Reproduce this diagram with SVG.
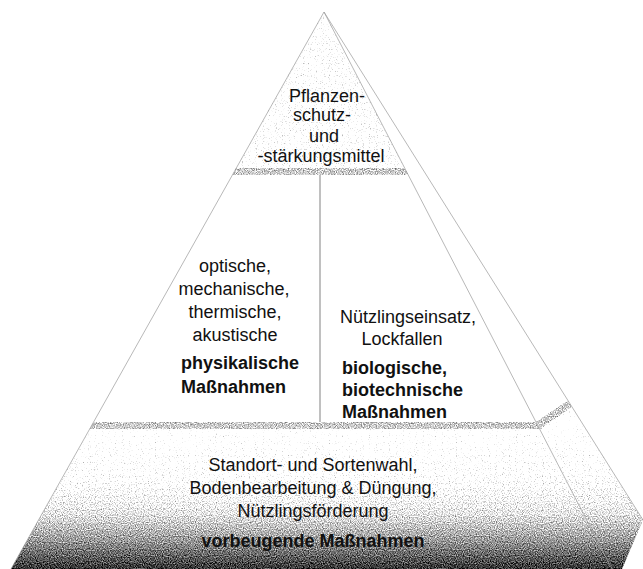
<svg xmlns="http://www.w3.org/2000/svg" width="643" height="569" viewBox="0 0 643 569">
  <style>
    .t { font-family: "Liberation Sans", Arial, sans-serif; font-size: 18px; fill: #111; }
    .c { text-anchor: middle; }
    .b { font-weight: bold; }
    .edge { fill: none; stroke: #999; stroke-width: 0.7; }
  </style>
  <defs>
    <filter id="grain" x="0" y="0" width="643" height="569" filterUnits="userSpaceOnUse" color-interpolation-filters="sRGB">
      <feTurbulence type="fractalNoise" baseFrequency="0.85" numOctaves="1" seed="7" result="n"/>
      <feColorMatrix in="n" type="matrix" values="0 0 0 0 0  0 0 0 0 0  0 0 0 0 0  1 0 0 0 0" result="na"/>
      <feColorMatrix in="SourceAlpha" type="matrix" values="0 0 0 0 0  0 0 0 0 0  0 0 0 0 0  0 0 0 100 0" result="mask"/>
      <feComposite in="SourceAlpha" in2="na" operator="arithmetic" k1="0" k2="1.5" k3="1.4" k4="-0.95" result="g"/>
      <feComposite in="g" in2="mask" operator="in"/>
    </filter>
    <linearGradient id="gBottom" gradientUnits="userSpaceOnUse" x1="0" y1="429" x2="0" y2="569">
      <stop offset="0" stop-color="#000" stop-opacity="0.02"/>
      <stop offset="0.35" stop-color="#000" stop-opacity="0.08"/>
      <stop offset="0.6" stop-color="#000" stop-opacity="0.22"/>
      <stop offset="0.8" stop-color="#000" stop-opacity="0.44"/>
      <stop offset="1" stop-color="#000" stop-opacity="0.7"/>
    </linearGradient>
    <clipPath id="clipFront">
      <polygon points="324,12 11,569 612,569"/>
    </clipPath>
    <clipPath id="clipSide">
      <polygon points="324,12 643,520 622,569 612,569"/>
    </clipPath>
  </defs>

  <rect width="643" height="569" fill="#fff"/>

  <!-- top tier -->
  <g id="tier-top">
    <polygon points="324,12 236,168 405,168" fill="#000" fill-opacity="0.07" filter="url(#grain)"/>
    <polygon points="236,168 405,168 409,175 232,175" fill="#000" fill-opacity="0.3" filter="url(#grain)"/>
    <text class="t c" x="327" y="102">Pflanzen-</text>
    <text class="t c" x="322" y="121">schutz-</text>
    <text class="t c" x="324" y="142">und</text>
    <text class="t c" x="321" y="162">-stärkungsmittel</text>
  </g>

  <!-- middle left -->
  <g id="tier-middle-left">
    <text class="t c" x="235" y="272">optische,</text>
    <text class="t c" x="234" y="295">mechanische,</text>
    <text class="t c" x="235" y="318">thermische,</text>
    <text class="t c" x="235" y="341">akustische</text>
    <text class="t b" x="181" y="369">physikalische</text>
    <text class="t b" x="181" y="393">Maßnahmen</text>
  </g>

  <!-- middle right -->
  <g id="tier-middle-right">
    <text class="t c" x="408" y="323">Nützlingseinsatz,</text>
    <text class="t c" x="402" y="345">Lockfallen</text>
    <text class="t b" x="342" y="374">biologische,</text>
    <text class="t b" x="342" y="396">biotechnische</text>
    <text class="t b" x="342" y="418">Maßnahmen</text>
  </g>

  <!-- bottom tier -->
  <g id="tier-bottom">
    <g clip-path="url(#clipFront)">
      <polygon points="40,422 540,422 544,429 30,429" fill="#000" fill-opacity="0.3" filter="url(#grain)"/>
      <polygon points="20,429 540,429 620,569 0,569" fill="url(#gBottom)" filter="url(#grain)"/>
    </g>
    <g clip-path="url(#clipSide)">
      <polygon points="536,422 568,400 572,407 540,429" fill="#000" fill-opacity="0.3" filter="url(#grain)"/>
      <polygon points="540,429 572,407 660,400 660,569 600,569" fill="url(#gBottom)" filter="url(#grain)"/>
    </g>
    <text class="t c" x="313" y="471">Standort- und Sortenwahl,</text>
    <text class="t c" x="313" y="494">Bodenbearbeitung &amp; Düngung,</text>
    <text class="t c" x="313" y="517">Nützlingsförderung</text>
    <text class="t c b" x="313" y="547" fill="#1a1a1a">vorbeugende Maßnahmen</text>
  </g>

  <!-- edges -->
  <g id="connectors">
    <line class="edge" x1="324" y1="12" x2="11" y2="569"/>
    <line class="edge" x1="324" y1="12" x2="612" y2="569"/>
    <line class="edge" x1="324" y1="12" x2="643" y2="520"/>
    <line x1="320" y1="175" x2="320" y2="422" stroke="#ababab" stroke-width="1.5"/>
  </g>
</svg>
